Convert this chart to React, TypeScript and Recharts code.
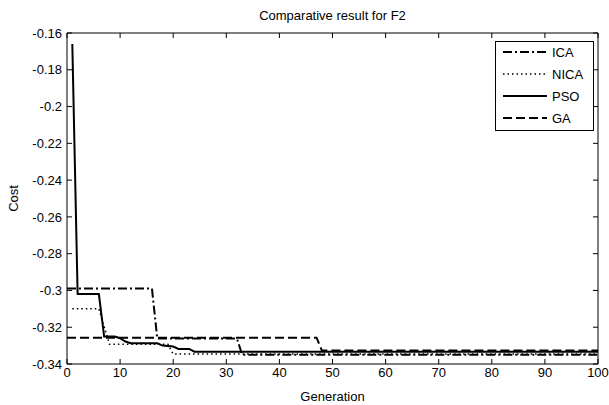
import { Legend, Line, LineChart, XAxis, YAxis } from 'recharts'

// Values: generation breakpoints and the cost at each one.
const xTicks = [0, 10, 20, 30, 40, 50, 60, 70, 80, 90, 100]
const yTicks = [-0.34, -0.32, -0.3, -0.28, -0.26, -0.24, -0.22, -0.2, -0.18, -0.16]

const icaGen = [0, 16, 17, 32, 33, 100]
const icaCost = [-0.299, -0.299, -0.3262, -0.3262, -0.335, -0.335]

const nicaGen = [1, 6, 8, 19, 20, 100]
const nicaCost = [-0.31, -0.31, -0.3293, -0.3293, -0.3346, -0.3346]

const psoGen = [1, 2, 6, 7, 9, 10, 11, 12, 17, 18, 20, 21, 23, 24, 100]
const psoCost = [
  -0.166, -0.302, -0.302, -0.3251, -0.3251, -0.326, -0.3278, -0.3287, -0.3287, -0.33, -0.3305, -0.3318,
  -0.3318, -0.3333, -0.3333,
]

const gaGen = [0, 47, 48, 100]
const gaCost = [-0.3257, -0.3257, -0.3327, -0.3327]

const seriesNames = ['ICA', 'NICA', 'PSO', 'GA']

const FONT = '"Liberation Sans", Arial, sans-serif'

// MATLAB line styles: '-.', ':', '-', '--'
const STYLE: Record<string, { dash?: string; width: number }> = {
  ICA: { dash: '9 3 2 3', width: 2 },
  NICA: { dash: '1.5 3', width: 1.5 },
  PSO: { width: 2 },
  GA: { dash: '9 4', width: 2 },
}

const toPoints = (gens: number[], costs: number[]) => gens.map((g, i) => ({ gen: g, cost: costs[i] }))

const fmtCost = (v: number) => String(Number(v.toFixed(2)))

// Recharts sorts legend entries by name; MATLAB keeps plotting order.
function MatlabLegend() {
  return (
    <svg width={99} height={90} style={{ display: 'block' }}>
      <rect x={0.5} y={0.5} width={98} height={89} fill="#fff" stroke="#000" />
      {seriesNames.map((name, i) => {
        const s = STYLE[name]
        const y = 11 + i * 22
        return (
          <g key={name}>
            <line x1={8} x2={52} y1={y} y2={y} stroke="#000" strokeWidth={s.width} strokeDasharray={s.dash} />
            <text x={57} y={y} dy="0.35em" fontSize={13} fill="#000" fontFamily={FONT}>
              {name}
            </text>
          </g>
        )
      })}
    </svg>
  )
}

export default function App() {
  const tick = { fontSize: 13, fill: '#000', fontFamily: FONT }
  const blank = () => ''
  return (
    <div style={{ position: 'absolute', left: 0, top: 0, width: 609, height: 405, background: '#fff', fontFamily: FONT }}>
      <LineChart width={609} height={405} margin={{ top: 32, right: 10, bottom: 0, left: 0 }}>
        <XAxis
          type="number"
          dataKey="gen"
          domain={[0, 100]}
          ticks={xTicks}
          interval={0}
          height={41}
          tickSize={-5}
          tickMargin={9}
          stroke="#000"
          tick={tick}
          allowDataOverflow
          label={{ value: 'Generation', position: 'insideBottom', offset: 4, fill: '#000', fontSize: 13 }}
        />
        {/* top edge of the box: ticks only, the title hangs off it */}
        <XAxis
          xAxisId="top"
          orientation="top"
          type="number"
          dataKey="gen"
          domain={[0, 100]}
          ticks={xTicks}
          interval={0}
          height={1}
          tickSize={-5}
          stroke="#000"
          tick={tick}
          tickFormatter={blank}
          allowDataOverflow
          label={{ value: 'Comparative result for F2', position: 'top', offset: 12, fill: '#000', fontSize: 13 }}
        />
        <YAxis
          type="number"
          domain={[-0.34, -0.16]}
          ticks={yTicks}
          interval={0}
          width={67}
          tickSize={-5}
          tickMargin={10}
          stroke="#000"
          tick={tick}
          tickFormatter={fmtCost}
          allowDataOverflow
          label={{
            value: 'Cost',
            angle: -90,
            position: 'insideLeft',
            offset: 13,
            style: { textAnchor: 'middle' },
            fill: '#000',
            fontSize: 13,
          }}
        />
        <YAxis
          yAxisId="right"
          orientation="right"
          type="number"
          domain={[-0.34, -0.16]}
          ticks={yTicks}
          interval={0}
          width={1}
          tickSize={-5}
          stroke="#000"
          tick={tick}
          tickFormatter={blank}
          allowDataOverflow
        />
        <Legend
          layout="horizontal"
          verticalAlign="middle"
          align="center"
          content={<MatlabLegend />}
          wrapperStyle={{ position: 'absolute', left: 495, top: 41, width: 99, height: 90 }}
        />
        <Line
          data={toPoints(icaGen, icaCost)}
          dataKey="cost"
          name="ICA"
          type="linear"
          stroke="#000"
          strokeWidth={STYLE.ICA.width}
          strokeDasharray={STYLE.ICA.dash}
          dot={false}
          activeDot={false}
          isAnimationActive={false}
        />
        <Line
          data={toPoints(nicaGen, nicaCost)}
          dataKey="cost"
          name="NICA"
          type="linear"
          stroke="#000"
          strokeWidth={STYLE.NICA.width}
          strokeDasharray={STYLE.NICA.dash}
          dot={false}
          activeDot={false}
          isAnimationActive={false}
        />
        <Line
          data={toPoints(psoGen, psoCost)}
          dataKey="cost"
          name="PSO"
          type="linear"
          stroke="#000"
          strokeWidth={STYLE.PSO.width}
          dot={false}
          activeDot={false}
          isAnimationActive={false}
        />
        <Line
          data={toPoints(gaGen, gaCost)}
          dataKey="cost"
          name="GA"
          type="linear"
          stroke="#000"
          strokeWidth={STYLE.GA.width}
          strokeDasharray={STYLE.GA.dash}
          dot={false}
          activeDot={false}
          isAnimationActive={false}
        />
        {/* invisible copy bound to the top/right axes so they get drawn as the box */}
        <Line
          data={toPoints(gaGen, gaCost)}
          dataKey="cost"
          xAxisId="top"
          yAxisId="right"
          type="linear"
          stroke="none"
          legendType="none"
          dot={false}
          activeDot={false}
          isAnimationActive={false}
        />
      </LineChart>
    </div>
  )
}
